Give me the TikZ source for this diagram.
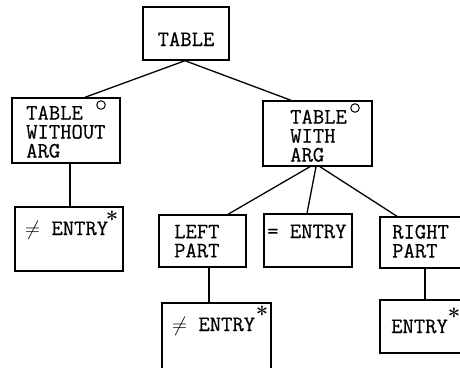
\documentclass[tikz,border=0pt]{standalone}
\usepackage{fontspec}
\newfontfamily\typew{Latin Modern Mono}[FakeBold=0.5]
\begin{document}
\begin{tikzpicture}[x=1pt,y=-1pt,
  box/.style={draw,line width=1.4pt,rectangle,inner sep=0pt},
  conn/.style={line width=1.3pt},
  lbl/.style={inner sep=0pt,anchor=base west,font=\typew\fontsize{22}{19}\selectfont},
  multi/.style={inner sep=0pt,anchor=north west,align=left,font=\typew\fontsize{22}{19}\selectfont},
  starmark/.style={inner sep=0pt,anchor=base,font=\bfseries\fontsize{22}{22}\selectfont},
  ring/.style={draw,circle,line width=1pt,minimum size=8.5pt,inner sep=0pt}]
\clip (0,0) rectangle (460,367);
\useasboundingbox (0,0) rectangle (460,367);
% boxes
\node[box,minimum width=86pt,minimum height=53pt] (table) at (186,33.5) {};
\node[box,minimum width=108pt,minimum height=65pt] (twoa) at (66,130.5) {};
\node[box,minimum width=108pt,minimum height=64pt] (ne1) at (69,239) {};
\node[box,minimum width=109pt,minimum height=65pt] (twa) at (317.5,133.5) {};
\node[box,minimum width=87pt,minimum height=52pt] (lp) at (202.5,241) {};
\node[box,minimum width=88pt,minimum height=53pt] (eq) at (308,240.5) {};
\node[box,minimum width=95pt,minimum height=51pt] (rp) at (427.5,242.5) {};
\node[box,minimum width=109pt,minimum height=77pt] (ne2) at (216.5,341.5) {};
\node[box,minimum width=95pt,minimum height=53pt] (en) at (427.5,326.5) {};
% texts
\node[lbl,anchor=base] (t-table) at (186,46) {TABLE};
\node[multi] (t-twoa) at (26,105.6) {TABLE\\WITHOUT\\ARG};
\node[ring] (c-twoa) at (101,105) {};
\node[lbl] (t-ne1) at (25,235) {$\neq$ ENTRY};
\node[starmark] (s-ne1) at (112,227) {*};
\node[multi] (t-twa) at (290,109.6) {TABLE\\WITH\\ARG};
\node[ring] (c-twa) at (355,108) {};
\node[multi] (t-lp) at (174,224.6) {LEFT\\PART};
\node[lbl] (t-eq) at (267,238) {= ENTRY};
\node[multi] (t-rp) at (392,224.6) {RIGHT\\PART};
\node[lbl] (t-ne2) at (172,331) {$\neq$ ENTRY};
\node[starmark] (s-ne2) at (262,322) {*};
\node[lbl] (t-en) at (391,333) {ENTRY};
\node[starmark] (s-en) at (454,324) {*};
% connectors
\draw[conn] ([xshift=-1pt]table.south) -- ([xshift=19pt]twoa.north);
\draw[conn] ([xshift=-1pt]table.south) -- ([xshift=-26.5pt]twa.north);
\draw[conn] ([xshift=4pt]twoa.south) -- ([xshift=1pt]ne1.north);
\draw[conn] ([xshift=-7.5pt]twa.south) -- ([xshift=25.5pt]lp.north);
\draw[conn] ([xshift=-1.5pt]twa.south) -- ([xshift=-1pt]eq.north);
\draw[conn] ([xshift=2.5pt]twa.south) -- ([xshift=-30.5pt]rp.north);
\draw[conn] ([xshift=6.5pt]lp.south) -- ([xshift=-7.5pt]ne2.north);
\draw[conn] ([xshift=-2.5pt]rp.south) -- ([xshift=-2.5pt]en.north);
\end{tikzpicture}
\end{document}
